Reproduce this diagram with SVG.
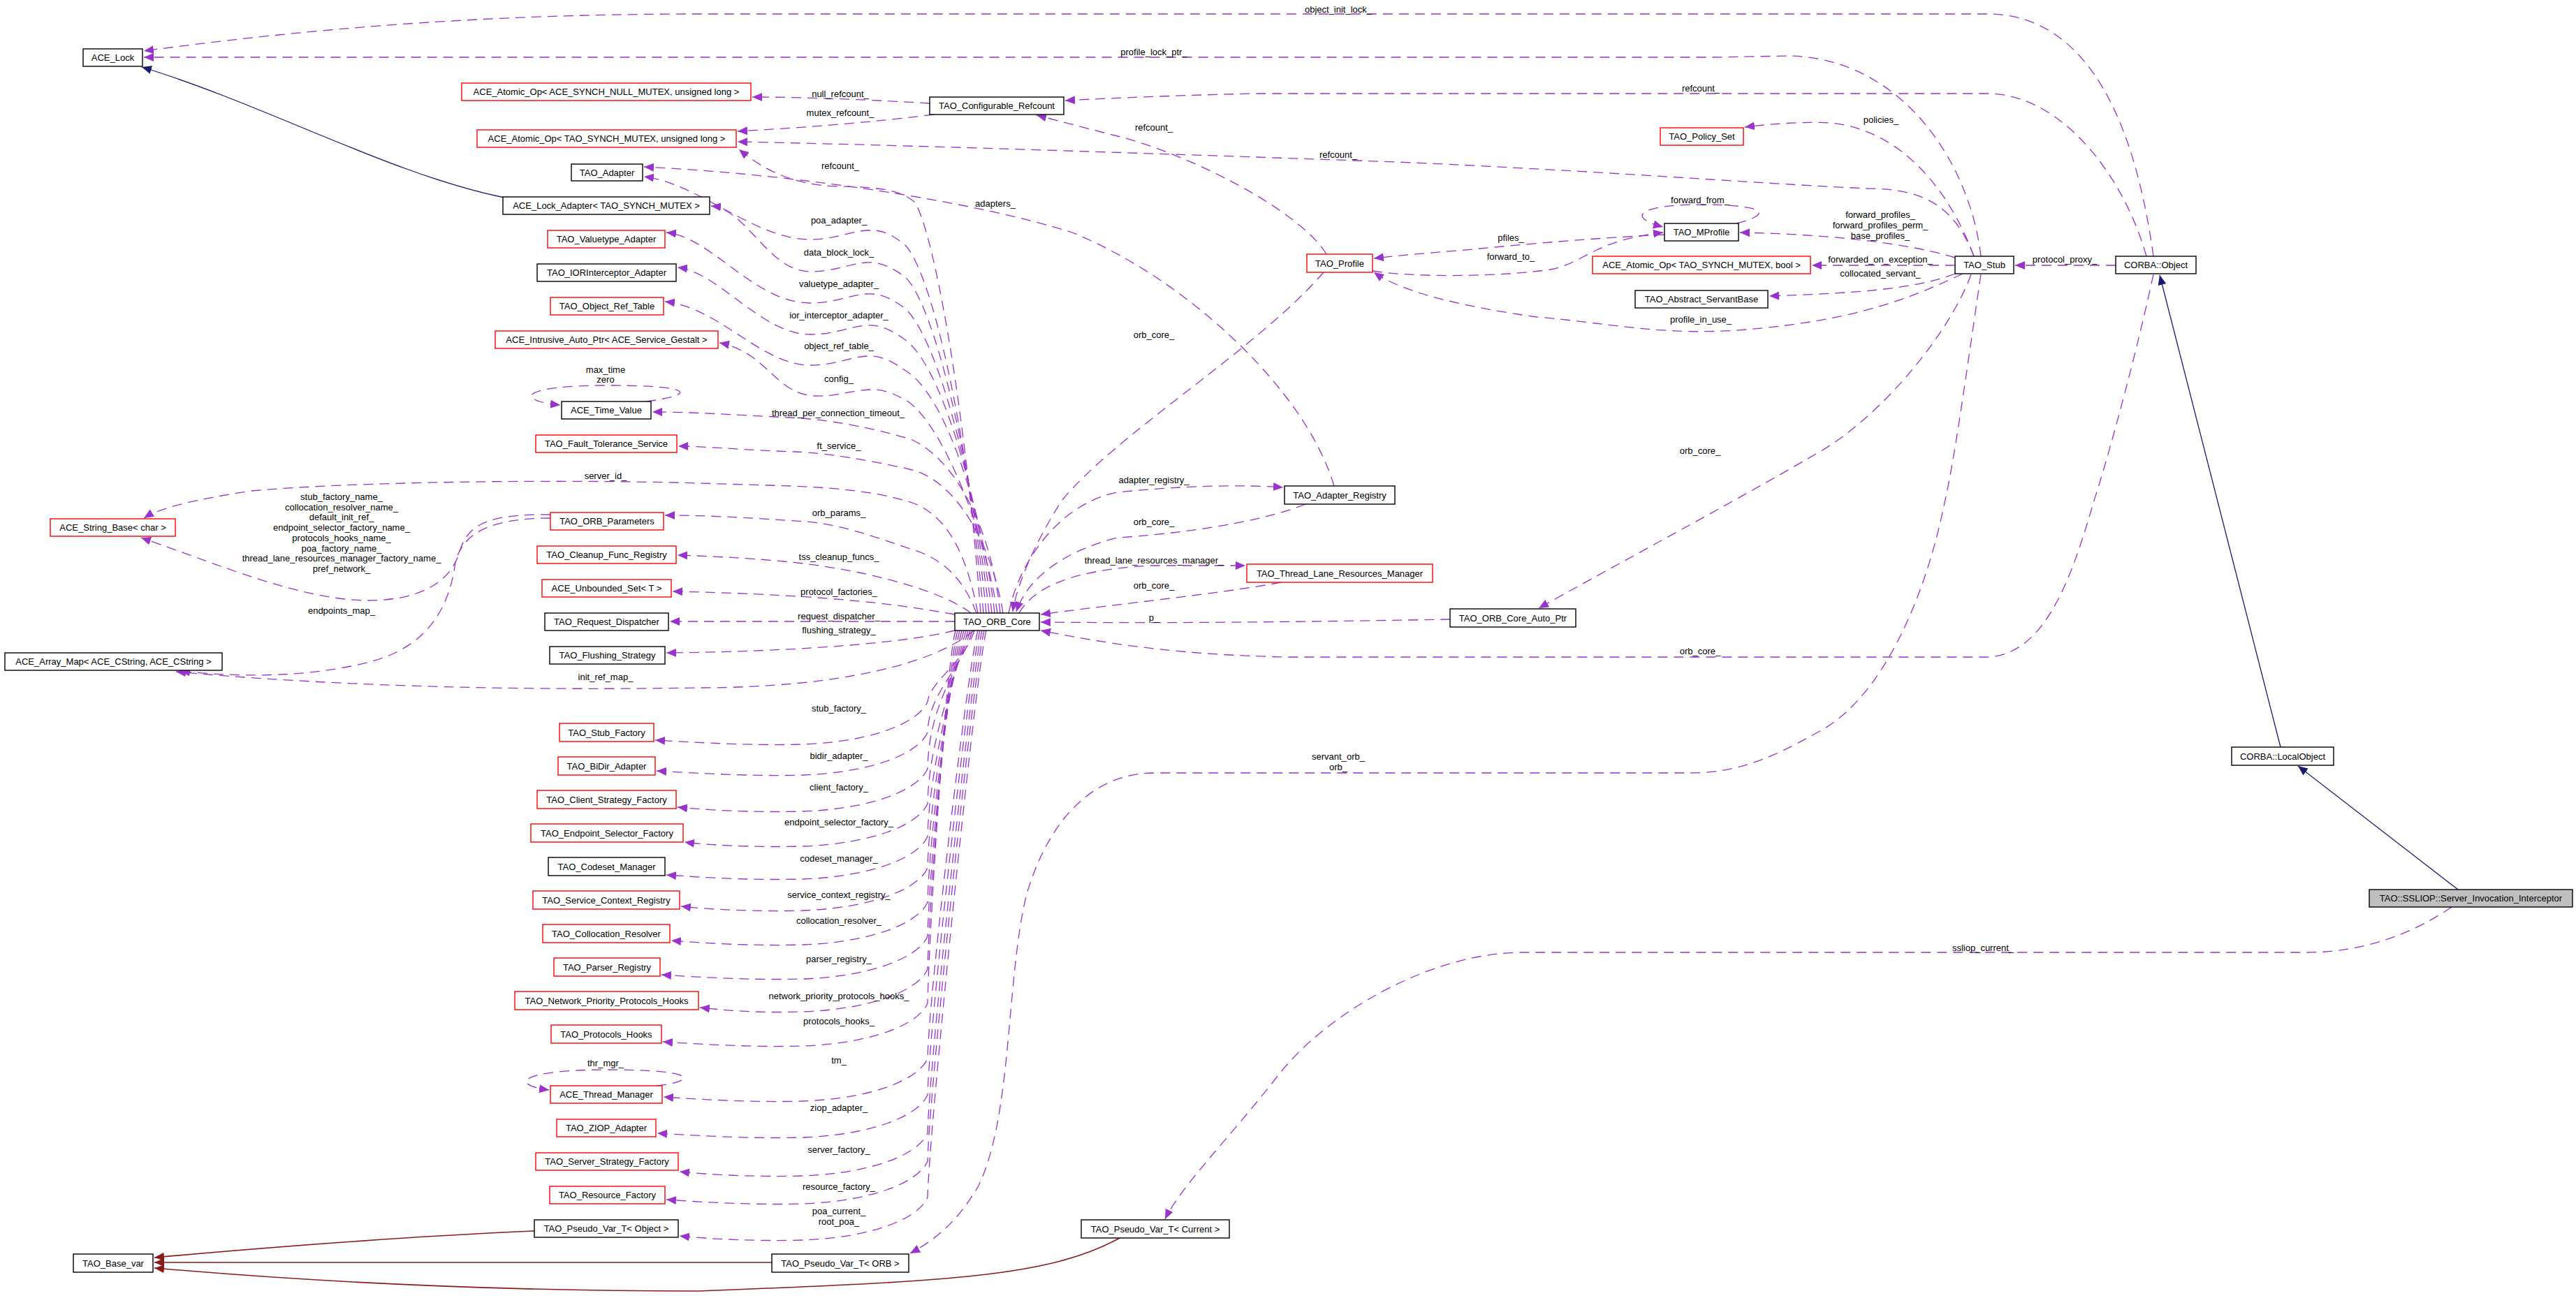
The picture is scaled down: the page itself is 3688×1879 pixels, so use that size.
<svg xmlns="http://www.w3.org/2000/svg" width="3688" height="1879" viewBox="0 0 3688 1879">
<style>
.bg{fill:#ffffff}
.n rect{fill:#ffffff;stroke:#000000;stroke-width:1.4}
.n.r rect{stroke:#ff0000}
.n.g rect{fill:#bfbfbf}
text{font-family:"Liberation Sans",Arial,sans-serif;font-size:13px;fill:#000000;text-anchor:middle}
.e{fill:none;stroke:#9a32cd;stroke-width:1.3;stroke-dasharray:14,9;marker-end:url(#ap)}
.i{fill:none;stroke:#191970;stroke-width:1.3;marker-end:url(#an)}
.d{fill:none;stroke:#8b1a1a;stroke-width:1.6;marker-end:url(#ad)}
</style>
<defs>
<marker id="ap" viewBox="0 0 14 12" refX="14" refY="6" markerWidth="14" markerHeight="12" markerUnits="userSpaceOnUse" orient="auto"><path d="M0,0 L14,6 L0,12 z" fill="#9a32cd"/></marker>
<marker id="an" viewBox="0 0 14 12" refX="14" refY="6" markerWidth="14" markerHeight="12" markerUnits="userSpaceOnUse" orient="auto"><path d="M0,0 L14,6 L0,12 z" fill="#191970"/></marker>
<marker id="ad" viewBox="0 0 14 12" refX="14" refY="6" markerWidth="14" markerHeight="12" markerUnits="userSpaceOnUse" orient="auto"><path d="M0,0 L14,6 L0,12 z" fill="#8b1a1a"/></marker>
</defs>
<rect class="bg" x="0" y="0" width="3688" height="1879"/>
<g id="connectors">
<path class="e" d="M 3083 367 C 3060 200 3000 20 2845 20 L 1000 20 C 700 20 450 40 206 73"/>
<path class="e" d="M 2836 367 C 2820 230 2720 82 2560 80 L 2456 82 L 206 82"/>
<path class="e" d="M 3073 367 C 3040 250 2950 134 2845 134 L 1800 134 C 1700 136 1600 140 1525 144"/>
<path class="e" d="M 1331 148 C 1250 143 1150 139 1077 139"/>
<path class="e" d="M 1337 164 C 1250 175 1150 183 1056 188"/>
<path class="e" d="M 2826 367 C 2800 300 2760 270 2674 270 C 2500 262 2300 245 2000 232 C 1600 218 1300 208 1056 203"/>
<path class="e" d="M 1404 878 C 1380 560 1335 330 1310 290 C 1290 272 1260 268 1200 267 C 1130 265 1090 240 1058 214"/>
<path class="e" d="M 1910 696 C 1870 560 1700 400 1535 333 C 1400 290 1150 250 922 239"/>
<path class="e" d="M 1408 878 C 1385 620 1335 390 1295 350 C 1270 330 1255 329 1240 330 C 1215 332 1195 343 1160 343 C 1080 343 1000 262 922 253"/>
<path class="e" d="M 1412 878 C 1390 650 1335 430 1295 396 C 1270 378 1255 375 1240 376 C 1215 378 1195 389 1160 389 C 1100 389 1070 300 1018 295"/>
<path class="e" d="M 1416 878 C 1395 680 1340 480 1295 441 C 1270 423 1255 420 1240 421 C 1215 423 1195 434 1160 434 C 1080 434 1020 340 954 333"/>
<path class="e" d="M 1420 878 C 1400 700 1345 520 1295 486 C 1270 468 1255 465 1240 466 C 1215 468 1195 479 1160 479 C 1090 479 1030 390 970 383"/>
<path class="e" d="M 1424 878 C 1405 720 1350 560 1295 530 C 1270 512 1255 509 1240 510 C 1215 512 1195 523 1160 523 C 1090 523 1030 440 952 432"/>
<path class="e" d="M 1428 878 C 1410 760 1350 610 1300 575 C 1275 560 1258 557 1245 558 C 1215 560 1195 568 1168 567 C 1110 566 1100 505 1030 491"/>
<path class="e" d="M 1432 878 C 1420 760 1370 660 1306 630 C 1250 612 1180 600 1130 598 C 1050 594 990 590 934 590"/>
<path class="e" d="M 1436 878 C 1420 780 1370 690 1306 673 C 1250 660 1180 648 1138 647 C 1070 645 1010 639 971 639"/>
<path class="e" d="M 1400 878 C 1385 800 1360 740 1306 720 C 1250 702 1180 697 1100 695 L 1000 692 C 800 686 500 690 360 703 C 280 715 230 727 206 742"/>
<path class="e" d="M 1398 878 C 1380 830 1350 800 1306 787 C 1250 768 1200 750 1153 747 C 1080 742 1020 738 952 738"/>
<path class="e" d="M 1390 878 C 1360 855 1300 835 1230 820 C 1180 810 1120 800 970 795"/>
<path class="e" d="M 1367 880 C 1300 868 1200 852 963 847"/>
<path class="e" d="M 1367 890 L 959 890"/>
<path class="e" d="M 1367 903 C 1300 920 1150 933 954 935"/>
<path class="e" d="M 1394 903 C 1340 950 1200 985 1000 985 C 700 990 450 980 252 962"/>
<path class="e" d="M 788 737 C 700 736 670 750 658 790 C 645 835 600 860 525 860 C 430 858 330 815 202 770"/>
<path class="e" d="M 788 742 C 700 742 662 765 652 805 C 645 860 620 920 540 945 C 460 968 360 972 258 961"/>
<path class="e" d="M 925 575 C 995 566 1000 552 870 552 C 740 552 738 574 802 580"/>
<path class="e" d="M 940 1555 C 1000 1548 1000 1532 870 1532 C 740 1532 730 1554 786 1561"/>
<path class="e" d="M 1395 903 C 1380 950 1332 975 1328 1005 C 1315 1035 1250 1062 1150 1066 C 1080 1068 1010 1064 938 1060"/>
<path class="e" d="M 1392 903 C 1377 960 1330 990 1328 1049 C 1315 1079 1250 1106 1150 1110 C 1080 1112 1010 1108 940 1104"/>
<path class="e" d="M 1389 903 C 1374 960 1330 1006 1328 1101 C 1315 1131 1250 1158 1150 1162 C 1080 1164 1010 1160 970 1156"/>
<path class="e" d="M 1386 903 C 1371 960 1330 1056 1328 1151 C 1315 1181 1250 1208 1150 1212 C 1080 1214 1010 1210 980 1206"/>
<path class="e" d="M 1383 903 C 1368 960 1330 1103 1328 1198 C 1315 1228 1250 1255 1150 1259 C 1080 1261 1010 1257 954 1253"/>
<path class="e" d="M 1380 903 C 1365 960 1330 1148 1328 1243 C 1315 1273 1250 1300 1150 1304 C 1080 1306 1010 1302 975 1298"/>
<path class="e" d="M 1377 903 C 1362 960 1330 1197 1328 1292 C 1315 1322 1250 1349 1150 1353 C 1080 1355 1010 1351 961 1347"/>
<path class="e" d="M 1374 903 C 1359 960 1330 1246 1328 1341 C 1315 1371 1250 1398 1150 1402 C 1080 1404 1010 1400 947 1396"/>
<path class="e" d="M 1371 903 C 1356 960 1330 1293 1328 1388 C 1315 1418 1250 1445 1150 1449 C 1080 1451 1040 1447 1002 1443"/>
<path class="e" d="M 1368 903 C 1353 960 1330 1342 1328 1437 C 1315 1467 1250 1494 1150 1498 C 1080 1500 1010 1496 949 1492"/>
<path class="e" d="M 1400 903 C 1385 960 1330 1421 1328 1516 C 1315 1546 1250 1573 1150 1577 C 1080 1579 1010 1575 950 1571"/>
<path class="e" d="M 1403 903 C 1388 960 1330 1473 1328 1568 C 1315 1598 1250 1625 1150 1629 C 1080 1631 1010 1627 941 1623"/>
<path class="e" d="M 1406 903 C 1391 960 1330 1528 1328 1623 C 1315 1653 1250 1680 1150 1684 C 1080 1686 1010 1682 973 1678"/>
<path class="e" d="M 1409 903 C 1394 960 1330 1568 1328 1663 C 1315 1693 1250 1720 1150 1724 C 1080 1726 1010 1722 954 1718"/>
<path class="e" d="M 1412 903 C 1397 960 1330 1620 1328 1715 C 1315 1745 1250 1772 1150 1776 C 1080 1778 1010 1774 973 1770"/>
<path class="e" d="M 2826 367 C 2790 270 2720 185 2620 176 C 2580 174 2540 177 2498 182"/>
<path class="e" d="M 2486 320 C 2545 305 2520 293 2436 293 C 2350 293 2325 310 2381 325"/>
<path class="e" d="M 2799 369 C 2720 345 2600 335 2491 333"/>
<path class="e" d="M 2799 380 L 2594 380"/>
<path class="e" d="M 2799 392 C 2740 415 2650 420 2533 424"/>
<path class="e" d="M 3029 380 L 2885 380"/>
<path class="e" d="M 2810 392 C 2720 435 2640 460 2500 472 C 2380 482 2300 462 2200 454 C 2100 440 2010 420 1967 390"/>
<path class="e" d="M 2383 336 C 2300 340 2200 348 2109 357 C 2050 362 2000 366 1967 370"/>
<path class="e" d="M 1965 388 C 2030 398 2150 396 2220 386 C 2270 376 2280 345 2381 333"/>
<path class="e" d="M 1899 364 C 1860 300 1700 220 1600 195 C 1540 180 1505 170 1484 165"/>
<path class="e" d="M 1895 390 C 1800 500 1600 620 1520 717 C 1480 780 1455 840 1450 876"/>
<path class="e" d="M 1444 878 C 1460 800 1520 720 1600 705 C 1700 695 1780 694 1837 698"/>
<path class="e" d="M 1869 722 C 1800 750 1680 765 1600 770 C 1520 790 1470 830 1455 876"/>
<path class="e" d="M 1459 878 C 1480 840 1540 815 1650 810 L 1783 810"/>
<path class="e" d="M 1834 834 C 1750 850 1600 865 1490 880"/>
<path class="e" d="M 2076 887 C 1900 890 1700 893 1490 891"/>
<path class="e" d="M 3083 393 C 3060 500 3020 650 2997 720 C 2960 850 2920 941 2841 941 L 1842 941 C 1700 938 1600 925 1490 903"/>
<path class="e" d="M 2822 393 C 2790 480 2690 600 2600 650 C 2480 720 2330 800 2203 871"/>
<path class="e" d="M 2836 393 C 2820 500 2800 650 2784 720 C 2760 840 2700 1000 2600 1050 C 2530 1090 2480 1107 2420 1107 L 1653 1107 C 1560 1107 1500 1180 1470 1280 C 1440 1400 1450 1600 1400 1700 C 1370 1750 1340 1775 1303 1795"/>
<path class="e" d="M 3510 1299 C 3450 1340 3380 1364 3301 1364 L 2180 1364 C 2050 1364 1900 1450 1830 1540 C 1760 1630 1690 1700 1668 1746"/>
<path class="i" d="M 722 283 C 560 250 380 150 203 96"/>
<path class="i" d="M 3265 1070 L 3092 394"/>
<path class="i" d="M 3519 1274 L 3290 1097"/>
<path class="d" d="M 765 1763 C 600 1770 400 1785 221 1801"/>
<path class="d" d="M 1105 1808 L 221 1808"/>
<path class="d" d="M 1603 1773 C 1500 1830 1350 1835 1000 1849 C 700 1849 450 1836 221 1816"/>
<text x="1916" y="18">object_init_lock_</text>
<text x="1652" y="79">profile_lock_ptr_</text>
<text x="1203" y="139">null_refcount_</text>
<text x="2435" y="131">refcount_</text>
<text x="1203" y="166">mutex_refcount_</text>
<text x="1652" y="187">refcount_</text>
<text x="1916" y="226">refcount_</text>
<text x="1203" y="242">refcount_</text>
<text x="2693" y="176">policies_</text>
<text x="1425" y="296">adapters_</text>
<text x="2434" y="291">forward_from_</text>
<text x="2692" y="312">forward_profiles_</text>
<text x="2692" y="327">forward_profiles_perm_</text>
<text x="2692" y="342">base_profiles_</text>
<text x="1201" y="320">poa_adapter_</text>
<text x="2163" y="345">pfiles_</text>
<text x="1201" y="366">data_block_lock_</text>
<text x="2163" y="372">forward_to_</text>
<text x="2692" y="376">forwarded_on_exception_</text>
<text x="2956" y="376">protocol_proxy_</text>
<text x="2692" y="396">collocated_servant_</text>
<text x="1201" y="411">valuetype_adapter_</text>
<text x="1201" y="456">ior_interceptor_adapter_</text>
<text x="2435" y="462">profile_in_use_</text>
<text x="1652" y="484">orb_core_</text>
<text x="1201" y="500">object_ref_table_</text>
<text x="867" y="534">max_time</text>
<text x="867" y="548">zero</text>
<text x="1201" y="547">config_</text>
<text x="1200" y="596">thread_per_connection_timeout_</text>
<text x="1201" y="643">ft_service_</text>
<text x="2434" y="650">orb_core_</text>
<text x="867" y="686">server_id_</text>
<text x="1652" y="692">adapter_registry_</text>
<text x="489" y="716">stub_factory_name_</text>
<text x="489" y="731">collocation_resolver_name_</text>
<text x="489" y="745">default_init_ref_</text>
<text x="489" y="760">endpoint_selector_factory_name_</text>
<text x="489" y="775">protocols_hooks_name_</text>
<text x="489" y="790">poa_factory_name_</text>
<text x="489" y="804">thread_lane_resources_manager_factory_name_</text>
<text x="489" y="819">pref_network_</text>
<text x="1201" y="739">orb_params_</text>
<text x="1652" y="752">orb_core_</text>
<text x="1201" y="802">tss_cleanup_funcs_</text>
<text x="1652" y="807">thread_lane_resources_manager_</text>
<text x="1652" y="843">orb_core_</text>
<text x="1201" y="852">protocol_factories_</text>
<text x="489" y="879">endpoints_map_</text>
<text x="1201" y="887">request_dispatcher_</text>
<text x="1652" y="889">p_</text>
<text x="1201" y="907">flushing_strategy_</text>
<text x="2434" y="937">orb_core_</text>
<text x="867" y="974">init_ref_map_</text>
<text x="1201" y="1019">stub_factory_</text>
<text x="1201" y="1087">bidir_adapter_</text>
<text x="1916" y="1088">servant_orb_</text>
<text x="1916" y="1103">orb_</text>
<text x="1201" y="1132">client_factory_</text>
<text x="1201" y="1182">endpoint_selector_factory_</text>
<text x="1201" y="1234">codeset_manager_</text>
<text x="1201" y="1286">service_context_registry_</text>
<text x="1201" y="1323">collocation_resolver_</text>
<text x="2839" y="1362">ssliop_current_</text>
<text x="1201" y="1378">parser_registry_</text>
<text x="1201" y="1431">network_priority_protocols_hooks_</text>
<text x="1201" y="1467">protocols_hooks_</text>
<text x="1201" y="1523">tm_</text>
<text x="867" y="1527">thr_mgr_</text>
<text x="1201" y="1591">ziop_adapter_</text>
<text x="1201" y="1651">server_factory_</text>
<text x="1201" y="1704">resource_factory_</text>
<text x="1201" y="1739">poa_current_</text>
<text x="1201" y="1754">root_poa_</text>
</g>
<g id="n_ace_lock" class="n"><rect x="119" y="70" width="85" height="25"/><text x="161.5" y="87">ACE_Lock</text></g>
<g id="n_atomic_null" class="n r"><rect x="661" y="119" width="414" height="25"/><text x="868" y="136">ACE_Atomic_Op&lt; ACE_SYNCH_NULL_MUTEX, unsigned long &gt;</text></g>
<g id="n_atomic_tao" class="n r"><rect x="683" y="186" width="371" height="25"/><text x="868.5" y="203">ACE_Atomic_Op&lt; TAO_SYNCH_MUTEX, unsigned long &gt;</text></g>
<g id="n_adapter" class="n"><rect x="818" y="235" width="102" height="24"/><text x="869" y="251.5">TAO_Adapter</text></g>
<g id="n_lock_adapter" class="n"><rect x="720" y="282" width="296" height="25"/><text x="868" y="299">ACE_Lock_Adapter&lt; TAO_SYNCH_MUTEX &gt;</text></g>
<g id="n_valuetype" class="n r"><rect x="784" y="330" width="168" height="25"/><text x="868" y="347">TAO_Valuetype_Adapter</text></g>
<g id="n_ior" class="n"><rect x="769" y="378" width="199" height="25"/><text x="868.5" y="395">TAO_IORInterceptor_Adapter</text></g>
<g id="n_ort" class="n r"><rect x="788" y="426" width="162" height="25"/><text x="869" y="443">TAO_Object_Ref_Table</text></g>
<g id="n_intrusive" class="n r"><rect x="709" y="474" width="319" height="25"/><text x="868.5" y="491">ACE_Intrusive_Auto_Ptr&lt; ACE_Service_Gestalt &gt;</text></g>
<g id="n_time" class="n"><rect x="804" y="575" width="128" height="25"/><text x="868" y="592">ACE_Time_Value</text></g>
<g id="n_ft" class="n r"><rect x="767" y="623" width="202" height="25"/><text x="868" y="640">TAO_Fault_Tolerance_Service</text></g>
<g id="n_string" class="n r"><rect x="72" y="743" width="179" height="25"/><text x="161.5" y="760">ACE_String_Base&lt; char &gt;</text></g>
<g id="n_orb_params" class="n r"><rect x="788" y="734" width="162" height="25"/><text x="869" y="751">TAO_ORB_Parameters</text></g>
<g id="n_cleanup" class="n r"><rect x="769" y="782" width="199" height="25"/><text x="868.5" y="799">TAO_Cleanup_Func_Registry</text></g>
<g id="n_unbounded" class="n r"><rect x="776" y="830" width="185" height="25"/><text x="868.5" y="847">ACE_Unbounded_Set&lt; T &gt;</text></g>
<g id="n_reqdisp" class="n"><rect x="780" y="878" width="177" height="25"/><text x="868.5" y="895">TAO_Request_Dispatcher</text></g>
<g id="n_flush" class="n"><rect x="787" y="926" width="165" height="25"/><text x="869.5" y="943">TAO_Flushing_Strategy</text></g>
<g id="n_array_map" class="n"><rect x="7" y="935" width="311" height="25"/><text x="162.5" y="952">ACE_Array_Map&lt; ACE_CString, ACE_CString &gt;</text></g>
<g id="n_stub_factory" class="n r"><rect x="801" y="1036" width="135" height="26"/><text x="868.5" y="1053.5">TAO_Stub_Factory</text></g>
<g id="n_bidir" class="n r"><rect x="799" y="1084" width="139" height="26"/><text x="868.5" y="1101.5">TAO_BiDir_Adapter</text></g>
<g id="n_client" class="n r"><rect x="769" y="1132" width="199" height="26"/><text x="868.5" y="1149.5">TAO_Client_Strategy_Factory</text></g>
<g id="n_endpoint" class="n r"><rect x="760" y="1180" width="218" height="26"/><text x="869" y="1197.5">TAO_Endpoint_Selector_Factory</text></g>
<g id="n_codeset" class="n"><rect x="785" y="1228" width="167" height="26"/><text x="868.5" y="1245.5">TAO_Codeset_Manager</text></g>
<g id="n_service_ctx" class="n r"><rect x="763" y="1276" width="210" height="26"/><text x="868" y="1293.5">TAO_Service_Context_Registry</text></g>
<g id="n_colloc" class="n r"><rect x="777" y="1324" width="182" height="26"/><text x="868" y="1341.5">TAO_Collocation_Resolver</text></g>
<g id="n_parser" class="n r"><rect x="793" y="1372" width="152" height="26"/><text x="869" y="1389.5">TAO_Parser_Registry</text></g>
<g id="n_netprio" class="n r"><rect x="737" y="1420" width="263" height="26"/><text x="868.5" y="1437.5">TAO_Network_Priority_Protocols_Hooks</text></g>
<g id="n_protohooks" class="n r"><rect x="789" y="1468" width="158" height="26"/><text x="868" y="1485.5">TAO_Protocols_Hooks</text></g>
<g id="n_thread_mgr" class="n r"><rect x="788" y="1555" width="160" height="25"/><text x="868" y="1572">ACE_Thread_Manager</text></g>
<g id="n_ziop" class="n r"><rect x="797" y="1603" width="142" height="25"/><text x="868" y="1620">TAO_ZIOP_Adapter</text></g>
<g id="n_server_strat" class="n r"><rect x="767" y="1651" width="204" height="25"/><text x="869" y="1668">TAO_Server_Strategy_Factory</text></g>
<g id="n_resource" class="n r"><rect x="787" y="1699" width="165" height="25"/><text x="869.5" y="1716">TAO_Resource_Factory</text></g>
<g id="n_pv_object" class="n"><rect x="765" y="1747" width="206" height="25"/><text x="868" y="1764">TAO_Pseudo_Var_T&lt; Object &gt;</text></g>
<g id="n_base_var" class="n"><rect x="105" y="1796" width="114" height="26"/><text x="162" y="1813.5">TAO_Base_var</text></g>
<g id="n_pv_orb" class="n"><rect x="1105" y="1796" width="196" height="26"/><text x="1203" y="1813.5">TAO_Pseudo_Var_T&lt; ORB &gt;</text></g>
<g id="n_pv_current" class="n"><rect x="1548" y="1747" width="212" height="26"/><text x="1654" y="1764.5">TAO_Pseudo_Var_T&lt; Current &gt;</text></g>
<g id="n_refcount" class="n"><rect x="1331" y="139" width="192" height="25"/><text x="1427" y="156">TAO_Configurable_Refcount</text></g>
<g id="n_profile" class="n r"><rect x="1871" y="364" width="94" height="26"/><text x="1918" y="381.5">TAO_Profile</text></g>
<g id="n_orb_core" class="n"><rect x="1367" y="878" width="121" height="25"/><text x="1427.5" y="895">TAO_ORB_Core</text></g>
<g id="n_adapter_reg" class="n"><rect x="1839" y="696" width="158" height="26"/><text x="1918" y="713.5">TAO_Adapter_Registry</text></g>
<g id="n_tlrm" class="n r"><rect x="1785" y="808" width="266" height="26"/><text x="1918" y="825.5">TAO_Thread_Lane_Resources_Manager</text></g>
<g id="n_auto_ptr" class="n"><rect x="2076" y="872" width="180" height="26"/><text x="2166" y="889.5">TAO_ORB_Core_Auto_Ptr</text></g>
<g id="n_policy" class="n r"><rect x="2377" y="183" width="119" height="25"/><text x="2436.5" y="200">TAO_Policy_Set</text></g>
<g id="n_mprofile" class="n"><rect x="2383" y="320" width="106" height="25"/><text x="2436" y="337">TAO_MProfile</text></g>
<g id="n_atomic_bool" class="n r"><rect x="2280" y="367" width="312" height="25"/><text x="2436" y="384">ACE_Atomic_Op&lt; TAO_SYNCH_MUTEX, bool &gt;</text></g>
<g id="n_stub" class="n"><rect x="2799" y="367" width="84" height="25"/><text x="2841" y="384">TAO_Stub</text></g>
<g id="n_corba_object" class="n"><rect x="3029" y="367" width="115" height="25"/><text x="3086.5" y="384">CORBA::Object</text></g>
<g id="n_servantbase" class="n"><rect x="2341" y="416" width="190" height="25"/><text x="2436" y="433">TAO_Abstract_ServantBase</text></g>
<g id="n_local" class="n"><rect x="3195" y="1070" width="146" height="26"/><text x="3268" y="1087.5">CORBA::LocalObject</text></g>
<g id="n_interceptor" class="n g"><rect x="3392" y="1274" width="291" height="25"/><text x="3537.5" y="1291">TAO::SSLIOP::Server_Invocation_Interceptor</text></g>
</svg>
